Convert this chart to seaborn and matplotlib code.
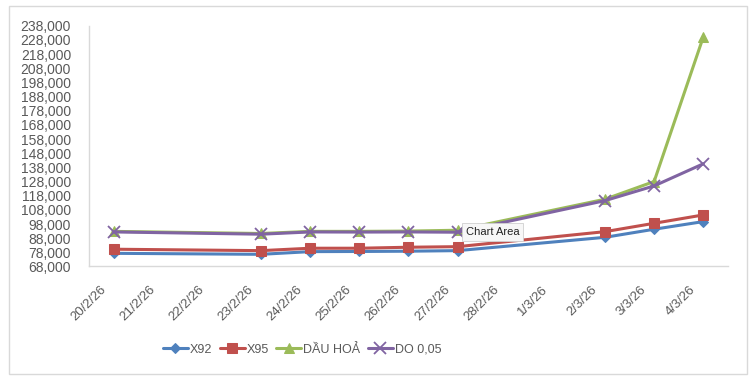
import pandas as pd
from matplotlib import pyplot as plt
from matplotlib.patches import Rectangle
from matplotlib.ticker import FuncFormatter
from matplotlib.transforms import ScaledTranslation
import seaborn as sns

# all days on the x axis
days = ['20/2/26', '21/2/26', '22/2/26', '23/2/26', '24/2/26', '25/2/26', '26/2/26',
        '27/2/26', '28/2/26', '1/3/26', '2/3/26', '3/3/26', '4/3/26']
# days that have a price
price_days = ['20/2/26', '23/2/26', '24/2/26', '25/2/26', '26/2/26', '27/2/26',
              '2/3/26', '3/3/26', '4/3/26']

x92 = [77300, 76600, 78500, 78600, 78800, 79200, 88600, 94300, 99700]
x95 = [80200, 79200, 80900, 80900, 81600, 82000, 92600, 98500, 104400]
dau_hoa = [92800, 91300, 92800, 92800, 93000, 93600, 115500, 128000, 230000]
do_005 = [92400, 90800, 92400, 92300, 92400, 92200, 114500, 124900, 140500]

series_names = ['X92', 'X95', 'DẦU HOẢ', 'DO 0,05']
colors = ['#4F81BD', '#C0504D', '#9BBB59', '#8064A2']
markers = ['D', 's', '^', 'x']

rows = []
for name, vals in zip(series_names, [x92, x95, dau_hoa, do_005]):
    for d, v in zip(price_days, vals):
        rows.append({'day': days.index(d), 'price': v, 'series': name})
data = pd.DataFrame(rows)

sns.set_style('white')
plt.rcParams['font.family'] = ['Liberation Sans', 'DejaVu Sans']

fig = plt.figure(figsize=(7.55, 3.84), dpi=100)
ax = fig.add_axes([0.118, 0.306, 0.846, 0.627])

for name, col, mk in zip(series_names, colors, markers):
    sub = data[data['series'] == name]
    if mk == 'x':
        kw = dict(markersize=8, markeredgewidth=1.3, markeredgecolor=col)
    else:
        kw = dict(markersize=7.5 if mk != 'D' else 5.5, markeredgecolor=col,
                  markerfacecolor=col)
    sns.lineplot(data=sub, x='day', y='price', color=col, marker=mk,
                 linewidth=2.2, label=name, ax=ax, **kw)

ax.set_xlim(-0.5, len(days) - 0.5)
ax.set_ylim(68000, 238000)
ax.set_yticks(range(68000, 238001, 10000))
ax.yaxis.set_major_formatter(FuncFormatter(lambda v, p: f'{int(v):,}'))
ax.set_xticks(range(len(days)))
ax.set_xticklabels(days, rotation=45, ha='right', va='top', rotation_mode='anchor')
ax.tick_params(length=0, labelcolor='#595959')
ax.tick_params(axis='y', labelsize=10, pad=13)
ax.tick_params(axis='x', labelsize=9.5, pad=12)
shift = ScaledTranslation(-10 / 72, 0, fig.dpi_scale_trans)
for lab in ax.get_xticklabels():
    lab.set_transform(lab.get_transform() + shift)
ax.set_xlabel('')
ax.set_ylabel('')
for s in ['top', 'right']:
    ax.spines[s].set_visible(False)
for s in ['left', 'bottom']:
    ax.spines[s].set_color('#D9D9D9')
    ax.spines[s].set_linewidth(1)

handles, labels = ax.get_legend_handles_labels()
ax.legend_.remove()
fig.legend(handles, labels, loc='center', bbox_to_anchor=(0.40, 0.089), ncol=4,
           frameon=False, fontsize=9, handlelength=2.0, columnspacing=0.6,
           handletextpad=0.15, labelcolor='#595959')

# tooltip visible in the screenshot
ax.text(7.17, 92300, 'Chart Area', fontsize=8, color='#222222', va='center', ha='left',
        zorder=10,
        bbox=dict(boxstyle='square,pad=0.35', fc='#F7F7F7', ec='#D0D0D0', lw=0.6))

fig.patches.append(Rectangle((0.012, 0.026), 0.977, 0.958, transform=fig.transFigure,
                             fill=False, ec='#D9D9D9', lw=1))

fig.savefig('out.png', dpi=100)
